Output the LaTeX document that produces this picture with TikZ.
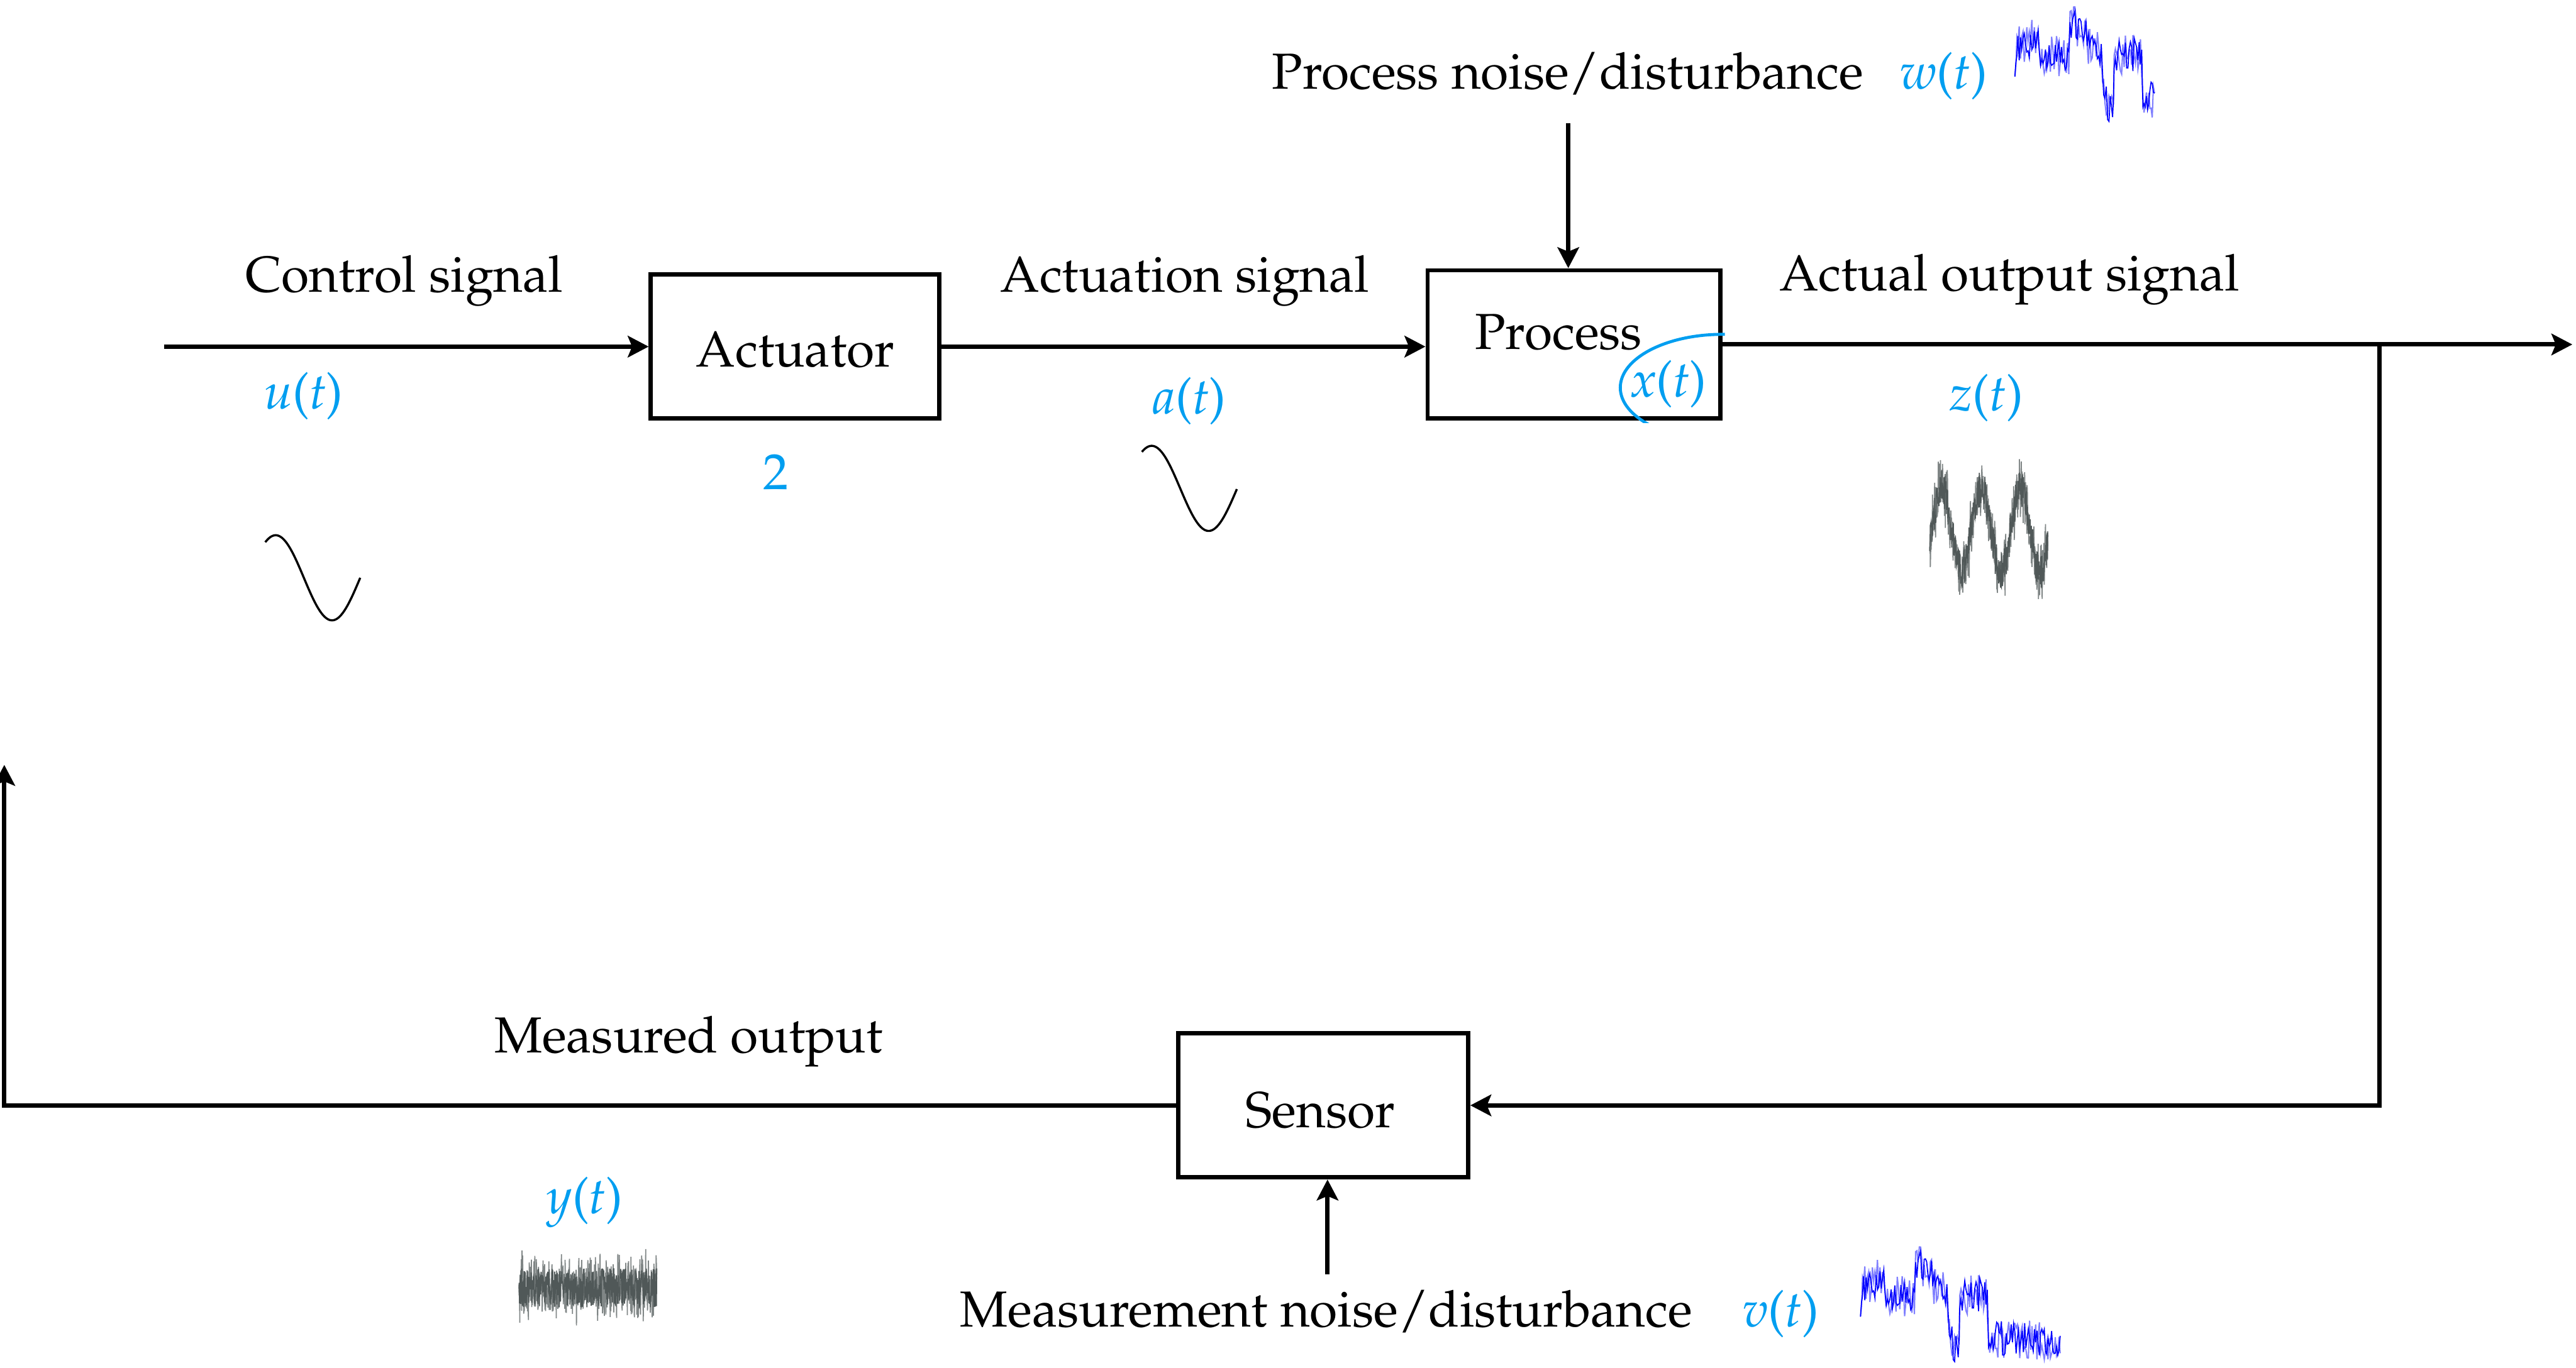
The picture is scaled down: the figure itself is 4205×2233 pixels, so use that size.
\documentclass[tikz,border=0pt]{standalone}
\usepackage[T1]{fontenc}
\usepackage{mathpazo}
\usetikzlibrary{arrows.meta}
\definecolor{sigblue}{RGB}{0,158,240}
\definecolor{traceblue}{RGB}{0,0,255}
\definecolor{darkgraytr}{RGB}{80,88,88}
\definecolor{lightgraytr}{RGB}{128,134,134}
% trend of the disturbance trace: xa/ya/xb/yb/samples
\def\wsegs{0/125/5/75/3, 5/75/38/60/16, 38/60/42/90/2, 42/90/88/95/23,
  88/95/90/40/1, 90/40/114/45/12, 114/45/120/75/3, 120/75/141/90/10,
  141/90/147/160/3, 147/160/158/180/5, 158/180/161/170/2, 161/170/162/90/1,
  162/90/207/90/22, 207/90/209/165/1, 209/165/228/160/10}
\def\vsegs{228/160/326/165/49}
\newcommand\sig[1]{\textit{#1}(\textit{t})}
\begin{document}
\begin{tikzpicture}[x=0.01cm, y=-0.01cm,
  font=\fontsize{23.5}{28}\selectfont,
  blk/.style={draw, line width=2pt, inner sep=0pt},
  link/.style={line width=2pt},
  arr/.style={link, -{Stealth[length=0.34cm, width=0.35cm, inset=0.07cm]}},
  txt/.style={anchor=base, inner sep=0pt},
  var/.style={txt, text=sigblue},
  wave/.style={line width=1pt},
  walkA/.style={draw=traceblue!50, line width=0.6pt},
  walkB/.style={draw=traceblue, line width=0.5pt},
  noiseA/.style={draw=lightgraytr, line width=0.5pt},
  noiseB/.style={draw=darkgraytr, line width=0.5pt}]
\useasboundingbox (0,0) rectangle (4205,2233);

% blocks
\node[blk, minimum width=4.71cm, minimum height=2.35cm] (act) at (1298,566) {};
\node[blk, minimum width=4.78cm, minimum height=2.42cm] (proc) at (2569.5,562.5) {};
\node[blk, minimum width=4.73cm, minimum height=2.35cm] (sen) at (2160,1805) {};
\node[txt] (actlbl) at (1298,599) {Actuator};
\node[txt] (proclbl) at (2544,570) {Process};
\node[txt] (senlbl) at (2155,1841) {Sensor};

% internal state marker
\begin{scope}
  \clip ([shift={(-1pt,-1pt)}]proc.south west) rectangle ([shift={(1pt,1pt)}]proc.north east);
  \draw[sigblue, line width=1.4pt] (2812,633) ellipse [x radius=1.67cm, y radius=0.87cm];
\end{scope}
\node[var] (xt) at (2724,648) {\sig{x}};

% signal paths
\coordinate (uin) at (268,566);
\coordinate (out) at (4199,562.5);
\coordinate (br) at (3884,562.5);
\coordinate (fb) at (7,1249);
\coordinate (pn) at (2560,201);
\coordinate (mn) at (2167,2081);
\draw[arr] (uin) -- (act.west);
\draw[arr] (act.east) -- (act.east -| proc.west);
\draw[arr] (proc.east) -- (out);
\draw[arr] (br) |- (sen.east);
\draw[arr] (sen.west) -| (fb);
\draw[arr] (pn) -- (pn |- proc.north);
\draw[arr] (mn) -- (mn |- sen.south);

% labels
\node[txt] (lctl) at (660,477) {Control signal};
\node[var] (lu) at (496,668) {\sig{u}};
\node[var] (lgain) at (1266,799) {2};
\node[txt] (lact) at (1934,477) {Actuation signal};
\node[var] (la) at (1942,676) {\sig{a}};
\node[txt] (lpn) at (2559,145) {Process noise/disturbance};
\node[var] (lw) at (3173,145) {\sig{w}};
\node[txt] (lout) at (3280,475) {Actual output signal};
\node[var] (lz) at (3243,671) {\sig{z}};
\node[txt] (lmeas) at (1124,1719) {Measured output};
\node[var] (ly) at (955,1982) {\sig{y}};
\node[txt] (lmn) at (2165,2167) {Measurement noise/disturbance};
\node[var] (lv) at (2907,2167) {\sig{v}};

% clean sine waves
\draw[wave] plot[domain=433:588, samples=80] (\x, {943.5-69.5*cos(((\x-450)/92)*180)});
\draw[wave] plot[domain=1864:2019, samples=80] (\x, {797.5-69.5*cos(((\x-1880)/93)*180)});

% noisy sine z(t)
\pgfmathsetseed{21}
\draw[noiseA] (3150,900) \foreach \x in {3150.5,3151,...,3343} { -- (\x, {865-68*cos(((\x-3170)/64)*360)+62*rand*(0.3+0.7*rnd)}) };
\draw[noiseB] (3150,900) \foreach \x in {3150.5,3151,...,3343} { -- (\x, {865-68*cos(((\x-3170)/64)*360)+30*rand}) };

% measurement noise y(t)
\pgfmathsetseed{33}
\draw[noiseA] (847,2103) \foreach \x in {847.5,848,...,1072} { -- (\x, {2103+67*rand*(0.3+0.7*rnd)}) };
\draw[noiseB] (847,2103) \foreach \x in {847.5,848,...,1072} { -- (\x, {2103+32*rand}) };

% disturbance w(t)
\begin{scope}[shift={(3289,0)}]
  \pgfmathsetseed{5}
  \draw[walkA] (0,125) \foreach \xa/\ya/\xb/\yb/\nn in \wsegs {
    \foreach \k in {1,...,\nn} { -- ({\xa+(\xb-\xa)*\k/\nn}, {\ya+(\yb-\ya)*\k/\nn+34*rand}) } };
  \pgfmathsetseed{9}
  \draw[walkB] (0,125) \foreach \xa/\ya/\xb/\yb/\nn in \wsegs {
    \foreach \k in {1,...,\nn} { -- ({\xa+(\xb-\xa)*\k/\nn}, {\ya+(\yb-\ya)*\k/\nn+28*rand}) } };
\end{scope}

% disturbance v(t)
\begin{scope}[shift={(3037,2025)}]
  \pgfmathsetseed{5}
  \draw[walkA] (0,125) \foreach \xa/\ya/\xb/\yb/\nn in \wsegs {
    \foreach \k in {1,...,\nn} { -- ({\xa+(\xb-\xa)*\k/\nn}, {\ya+(\yb-\ya)*\k/\nn+34*rand}) } }
    \foreach \xa/\ya/\xb/\yb/\nn in \vsegs {
    \foreach \k in {1,...,\nn} { -- ({\xa+(\xb-\xa)*\k/\nn}, {\ya+(\yb-\ya)*\k/\nn+32*rand}) } };
  \pgfmathsetseed{9}
  \draw[walkB] (0,125) \foreach \xa/\ya/\xb/\yb/\nn in \wsegs {
    \foreach \k in {1,...,\nn} { -- ({\xa+(\xb-\xa)*\k/\nn}, {\ya+(\yb-\ya)*\k/\nn+28*rand}) } }
    \foreach \xa/\ya/\xb/\yb/\nn in \vsegs {
    \foreach \k in {1,...,\nn} { -- ({\xa+(\xb-\xa)*\k/\nn}, {\ya+(\yb-\ya)*\k/\nn+28*rand}) } };
\end{scope}
\end{tikzpicture}
\end{document}
